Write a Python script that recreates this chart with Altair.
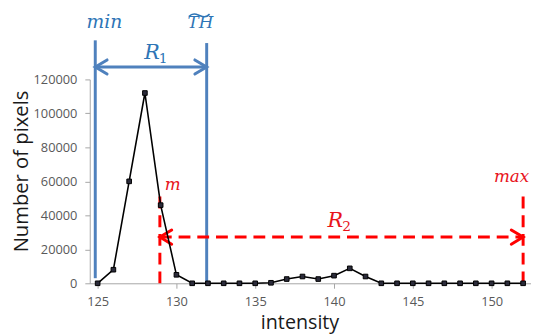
import altair as alt
import pandas as pd

# ---- data ----
intensity = list(range(125, 153))
pixels = [0, 8000, 60000, 112000, 46000, 5000, 0, 0, 0, 0, 0,
          300, 2500, 4000, 2500, 4500, 8800, 4000, 0,
          0, 0, 0, 0, 0, 0, 0, 0, 0]
x_ticks = [125, 130, 135, 140, 145, 150]
y_ticks = [0, 20000, 40000, 60000, 80000, 100000, 120000]

# annotation positions (data units)
min_x, th_x, m_x, max_x = 124.85, 131.92, 128.95, 152.0
r1_y, r2_y = 127300, 27200

BLUE = "#4F81BD"
BLUE_T = "#2E75B6"
RED = "#FF0000"
RED_T = "#E8141C"
SERIF = "DejaVu Serif"

df = pd.DataFrame({"intensity": intensity, "pixels": pixels})

xs = alt.Scale(domain=[124.5, 152.5], nice=False, zero=False)
ys = alt.Scale(domain=[0, 120000], nice=False)

xax = alt.Axis(values=x_ticks, title="intensity", grid=False, labelFont="Open Sans",
               labelFontSize=13, labelColor="#595959", tickColor="#A6A6A6",
               domainColor="#A6A6A6", tickSize=5, labelPadding=8, labelOverlap=False,
               titleFont="Open Sans", titleFontSize=20, titleFontWeight="normal",
               titleColor="#1a1a1a", titleX=213, titleY=46, titleBaseline="alphabetic")
yax = alt.Axis(values=y_ticks, format="d", title="Number of pixels", grid=False,
               labelFont="Open Sans", labelFontSize=13, labelColor="#595959",
               tickColor="#A6A6A6", domainColor="#A6A6A6", tickSize=5, labelPadding=8,
               labelOverlap=False, tickCount=7,
               titleFont="Open Sans", titleFontSize=20.5, titleFontWeight="normal",
               titleColor="#1a1a1a", titleX=-63, titleY=93, titleBaseline="alphabetic",
               titleAngle=-90)


def X(f):
    return alt.X(f, type="quantitative", scale=xs, axis=xax)


def Y(f):
    return alt.Y(f, type="quantitative", scale=ys, axis=yax)


base = alt.Chart(df)
line = base.mark_line(color="black", strokeWidth=1.6).encode(x=X("intensity"), y=Y("pixels"))
pts = base.mark_point(shape="square", filled=True, size=22, fill="#2b2b3a",
                      stroke="black", strokeWidth=1, opacity=1).encode(
    x=X("intensity"), y=Y("pixels"))

# blue vertical lines
blue_v = alt.Chart(pd.DataFrame({"intensity": [min_x, th_x], "pixels": [3000, 0],
                                 "y2": [143000, 141400]})).mark_rule(
    color=BLUE, strokeWidth=3).encode(x=X("intensity"), y=Y("pixels"), y2="y2:Q")
blue_h = alt.Chart(pd.DataFrame({"intensity": [min_x], "x2": [th_x], "pixels": [r1_y]})).mark_rule(
    color=BLUE, strokeWidth=3).encode(x=X("intensity"), x2="x2:Q", y=Y("pixels"))

LEFT = "M2,-1.2L0,0L2,1.2"
RIGHT = "M-2,-1.2L0,0L-2,1.2"


def arrows(x_left, x_right, yv, color):
    d = pd.DataFrame({"intensity": [x_left, x_right], "pixels": [yv, yv], "s": ["L", "R"]})
    return alt.Chart(d).mark_point(filled=False, strokeWidth=3, size=144, color=color,
                                   opacity=1, strokeCap="round", strokeJoin="miter").encode(
        x=X("intensity"), y=Y("pixels"),
        shape=alt.Shape("s:N", scale=alt.Scale(domain=["L", "R"], range=[LEFT, RIGHT]), legend=None))


blue_arr = arrows(min_x, th_x, r1_y, BLUE)

# wide tilde over TH, drawn as a wavy symbol
WAVE = "M-1,0.12C-0.65,-0.28 -0.3,-0.12 0,0S0.65,0.28 1,-0.12"
tilde = alt.Chart(pd.DataFrame({"intensity": [131.45], "pixels": [157700]})).mark_point(
    shape=WAVE, filled=False, strokeWidth=1.6, size=440, color=BLUE_T, opacity=1).encode(
    x=X("intensity"), y=Y("pixels"))

# red dashed lines
red_v = alt.Chart(pd.DataFrame({"intensity": [m_x, max_x], "pixels": [0, 0],
                                "y2": [55100, 54100]})).mark_rule(
    color=RED, strokeWidth=3, strokeDash=[12, 7]).encode(x=X("intensity"), y=Y("pixels"), y2="y2:Q")
red_h = alt.Chart(pd.DataFrame({"intensity": [m_x], "x2": [max_x], "pixels": [r2_y]})).mark_rule(
    color=RED, strokeWidth=3, strokeDash=[12, 7]).encode(x=X("intensity"), x2="x2:Q", y=Y("pixels"))
red_arr = arrows(m_x, max_x, r2_y, RED)


def label(txt, xv, yv, color, size, italic=True):
    kw = dict(font=SERIF, fontSize=size, color=color, align="center", baseline="alphabetic")
    if italic:
        kw["fontStyle"] = "italic"
    return alt.Chart(pd.DataFrame({"t": [txt], "intensity": [xv], "pixels": [yv]})).mark_text(**kw).encode(
        x=X("intensity"), y=Y("pixels"), text="t:N")


labels = [
    label("min", 125.43, 150500, BLUE_T, 19),
    label("TH", 131.52, 150500, BLUE_T, 17),
    label("R", 128.46, 132000, BLUE_T, 21),
    label("1", 129.16, 129600, BLUE_T, 14, italic=False),
    label("m", 129.77, 55100, RED_T, 17),
    label("R", 140.08, 33100, RED_T, 21),
    label("2", 140.8, 30800, RED_T, 14, italic=False),
    label("max", 151.27, 59700, RED_T, 17),
]

chart = alt.layer(blue_v, blue_h, blue_arr, tilde, red_v, red_h, red_arr, line, pts, *labels).properties(
    width=448, height=207,
    autosize=alt.AutoSizeParams(type="none"),
    padding={"left": 83, "top": 70, "right": 0, "bottom": 51},
    background="white",
).configure_view(stroke=None)

chart.save("out.html", embed_options={"renderer": "svg", "actions": False})
